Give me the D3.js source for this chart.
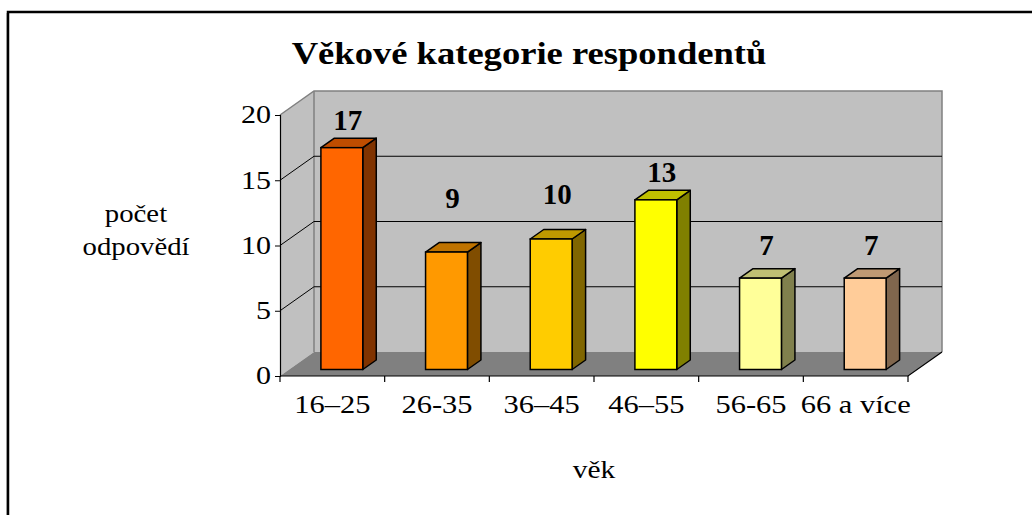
<!DOCTYPE html>
<html><head><meta charset="utf-8">
<script src="https://cdn.jsdelivr.net/npm/d3@7"></script>
<style>html,body{margin:0;padding:0;background:#fff;}svg{display:block;}</style>
</head><body>
<svg id="c" width="1032" height="515"></svg>
<script>
const categories = ["16–25", "26-35", "36–45", "46–55", "56-65", "66 a více"];
const values = [17, 9, 10, 13, 7, 7];
const frontColors = ["#ff6600", "#ff9900", "#ffcc00", "#ffff00", "#ffff99", "#ffcc99"];
const yTicks = [0, 5, 10, 15, 20];
const title = "Věkové kategorie respondentů";
const xTitle = "věk";
const yTitle = ["počet", "odpovědí"];

const svg = d3.select("#c");
const font = "'Liberation Serif','Times New Roman',serif";

function stext(parent, px, py, str, size, sx, opts = {}) {
  return parent.append("text")
    .attr("transform", `translate(${px},${py}) scale(${sx},1)`)
    .attr("text-anchor", opts.anchor || "middle")
    .attr("dy", opts.dy || null)
    .attr("font-family", font).attr("font-size", size)
    .attr("font-weight", opts.bold ? "bold" : "normal")
    .attr("fill", "#000").text(str);
}

// outer border
svg.append("path").attr("d", "M8,520 L8,12 L1040,12").attr("fill", "none")
  .attr("stroke", "#000").attr("stroke-width", 2.5);
svg.append("line").attr("x1", 6.5).attr("x2", 6.5).attr("y1", 13).attr("y2", 515)
  .attr("stroke", "#999").attr("stroke-width", 1);

const x = d3.scaleBand().domain(categories).range([280, 908]).paddingInner(0).paddingOuter(0);
const y = d3.scaleLinear().domain([0, 20]).range([376, 115]);
const DX = 34, DY = 24; // full depth

const g = svg.append("g");
g.append("path").attr("d", `M${280},${y(0)} L${280},${y(20)} L${280+DX},${y(20)-DY} L${280+DX},${y(0)-DY} Z`)
  .attr("fill", "#c0c0c0");
g.append("path").attr("d", `M${280+DX},${y(0)-DY} L${280+DX},${y(20)-DY} L${908+DX},${y(20)-DY} L${908+DX},${y(0)-DY} Z`)
  .attr("fill", "#c0c0c0");
g.append("path").attr("d", `M280,${y(0)} L908,${y(0)} L${908+DX},${y(0)-DY} L${280+DX},${y(0)-DY} Z`)
  .attr("fill", "#808080");
g.append("path").attr("d", `M280,${y(20)} L${280+DX},${y(20)-DY} L${908+DX},${y(20)-DY} L${908+DX},${y(0)-DY}`)
  .attr("fill", "none").attr("stroke", "#808080").attr("stroke-width", 1.5);
g.append("line").attr("x1", 280+DX).attr("x2", 280+DX).attr("y1", y(20)-DY).attr("y2", y(0)-DY)
  .attr("stroke", "#808080").attr("stroke-width", 1.5);
yTicks.filter(t => t > 0 && t < 20).forEach(t => {
  g.append("path").attr("d", `M280,${y(t)} L${280+DX},${y(t)-DY} L${908+DX},${y(t)-DY}`)
    .attr("fill", "none").attr("stroke", "#000").attr("stroke-width", 1);
});
g.append("path").attr("d", `M280,${y(0)} L908,${y(0)} L${908+DX},${y(0)-DY}`)
  .attr("fill", "none").attr("stroke", "#000").attr("stroke-width", 1.2);

// y axis
const yAxis = d3.axisLeft(y).tickValues(yTicks).tickSize(5).tickFormat(() => "");
const ya = svg.append("g").attr("transform", "translate(280,0)").call(yAxis);
ya.select(".domain").attr("stroke", "#000").attr("stroke-width", 1.2);
ya.selectAll(".tick line").attr("stroke", "#000");
const ylab = svg.append("g");
yTicks.forEach(t => stext(ylab, 271, y(t), String(t), 25, 1.2, { anchor: "end", dy: "0.33em" }));

// x axis ticks at boundaries
const bounds = categories.map(c => x(c)).concat([908]);
svg.append("g").selectAll("line").data(bounds).join("line")
  .attr("x1", d => d).attr("x2", d => d).attr("y1", y(0)).attr("y2", y(0) + 6)
  .attr("stroke", "#000").attr("stroke-width", 1.2);
const xlab = svg.append("g");
categories.forEach(c => stext(xlab, x(c) + x.bandwidth() / 2, 413, c, 25, 1.22));

// bars
const offX = 9.5, offY = 6.5;
const bdx = 13.5, bdy = 9.5;
const bw = x.bandwidth() * 0.4;
// manual label nudges (layout, as placed in the original)
const labelNudge = [0, -27, -18, 0, -6, -6];
function shade(c, k) { const r = d3.rgb(c); return d3.rgb(r.r * k, r.g * k, r.b * k).formatHex(); }
const bars = svg.append("g");
categories.forEach((c, i) => {
  const x0 = x(c) + (x.bandwidth() - bw) / 2 + offX;
  const x1 = x0 + bw;
  const yb = y(0) - offY;
  const yt = y(values[i]) - offY;
  const col = frontColors[i];
  bars.append("path").attr("d", `M${x1},${yb} L${x1},${yt} L${x1+bdx},${yt-bdy} L${x1+bdx},${yb-bdy} Z`)
    .attr("fill", shade(col, 0.5)).attr("stroke", "#000").attr("stroke-width", 1.5).attr("stroke-linejoin", "round");
  bars.append("path").attr("d", `M${x0},${yt} L${x1},${yt} L${x1+bdx},${yt-bdy} L${x0+bdx},${yt-bdy} Z`)
    .attr("fill", shade(col, 0.75)).attr("stroke", "#000").attr("stroke-width", 1.5).attr("stroke-linejoin", "round");
  bars.append("rect").attr("x", x0).attr("y", yt).attr("width", bw).attr("height", yb - yt)
    .attr("fill", col).attr("stroke", "#000").attr("stroke-width", 1.5);
  stext(bars, (x0 + x1) / 2 + 6, yt - bdy - 8 + labelNudge[i], String(values[i]), 29, 1.0, { bold: true });
});

// titles
stext(svg, 529, 64, title, 31, 1.18, { bold: true });
stext(svg, 594, 478, xTitle, 25, 1.18);
stext(svg, 136, 222, yTitle[0], 25, 1.15);
stext(svg, 136, 255, yTitle[1], 25, 1.15);
</script>
</body></html>
